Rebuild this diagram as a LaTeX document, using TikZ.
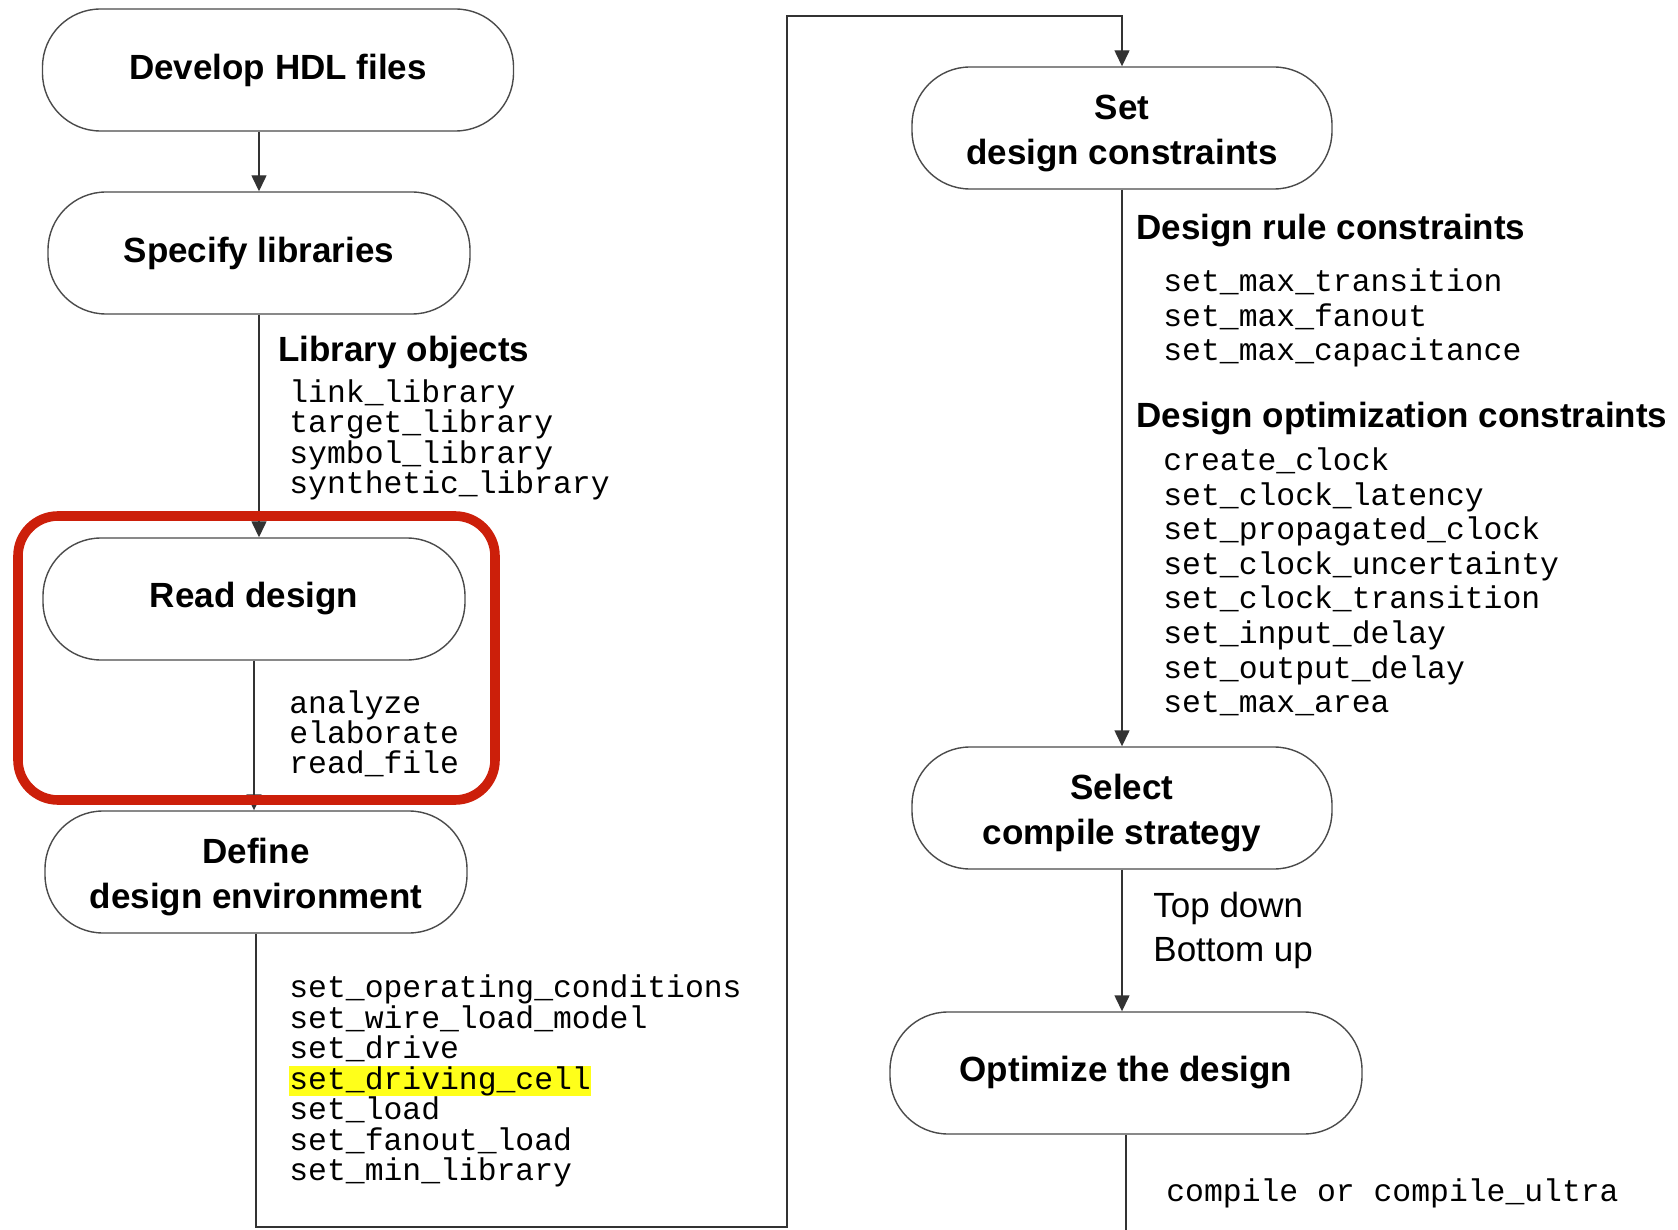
\documentclass[tikz,border=0pt]{standalone}
\usepackage{fontspec}
\setmainfont{Liberation Sans}
\setmonofont{Liberation Mono}
\usepackage{tikz}
\usetikzlibrary{arrows.meta, positioning}
\usepackage{xcolor}
\definecolor{edgegray}{HTML}{4A4A4A}
\definecolor{focusred}{HTML}{CC1F0A}
\definecolor{marker}{HTML}{FFFF1A}
\newcommand{\marked}[1]{{\setlength{\fboxsep}{0pt}\colorbox{marker}{#1}}}
\newcommand{\topstrut}{\rule{0pt}{17.8pt}}

\tikzset{
  stage/.style={draw=edgegray, line width=0.7pt, rounded corners=29pt,
    minimum width=211pt, minimum height=61pt, inner sep=0pt, align=center,
    font=\fontsize{17.5}{22.5}\selectfont\bfseries},
  flow/.style={draw=black!80, line width=0.7pt, -{Triangle[length=8pt, width=7.5pt]}},
  wire/.style={draw=black!80, line width=0.7pt},
  heading/.style={anchor=west, inner sep=0pt, font=\fontsize{17.5}{21}\selectfont\bfseries},
  cmds/.style={anchor=west, inner sep=0pt, align=left,
    font=\fontsize{15.7}{15.25}\selectfont\ttfamily},
}

\begin{document}
\begin{tikzpicture}[x=0.5pt, y=-0.5pt]
  \useasboundingbox (0,0) rectangle (1678,1230);

  % left column
  \node[stage, minimum width=235.5pt] (hdl) at (278,70) {Develop HDL files};
  \node[stage] (libs) at (259,253) {Specify libraries};
  \node[stage] (read) at (254,599) {Read design};
  \node[stage] (env) at (256,872) {\topstrut Define\\design environment};

  \node[heading] (libhead) at (278,352) {Library objects};
  \node[cmds] (libcmds) at (289,440) {link\_library\\target\_library\\symbol\_library\\synthetic\_library};
  \node[cmds, font=\fontsize{15.7}{15}\selectfont\ttfamily] (readcmds) at (289,734) {analyze\\elaborate\\read\_file};
  \node[cmds] (envcmds) at (289,1081) {set\_operating\_conditions\\set\_wire\_load\_model\\set\_drive\\
    \marked{set\_driving\_cell}\\set\_load\\set\_fanout\_load\\set\_min\_library};

  % right column
  \node[stage, minimum width=210pt] (cons) at (1122,128) {\topstrut Set\\design constraints};
  \node[stage, minimum width=210pt] (strat) at (1122,808) {\topstrut Select\\compile strategy};
  \node[stage, minimum width=236pt] (opt) at (1126,1073) {Optimize the design};

  \node[heading] (rulehead) at (1136,231) {Design rule constraints};
  \node[cmds, font=\fontsize{15.7}{17.4}\selectfont\ttfamily] (rulecmds) at (1163,318)
    {set\_max\_transition\\set\_max\_fanout\\set\_max\_capacitance};
  \node[heading] (opthead) at (1136,419) {Design optimization constraints};
  \node[cmds, font=\fontsize{15.7}{17.3}\selectfont\ttfamily] (optcmds) at (1163,582)
    {create\_clock\\set\_clock\_latency\\set\_propagated\_clock\\set\_clock\_uncertainty\\
     set\_clock\_transition\\set\_input\_delay\\set\_output\_delay\\set\_max\_area};
  \node[anchor=west, inner sep=0pt, align=left, font=\fontsize{17.5}{22}\selectfont] (modes)
    at (1153,930) {Top down\\Bottom up};
  \node[cmds] (compcmd) at (1166,1193) {compile or compile\_ultra};

  % connectors
  \coordinate (lowturn) at (787,1227);
  \coordinate (highturn) at (787,16);
  \coordinate (exit) at (1126,1230);
  \draw[flow] (libs.north |- hdl.south) -- (libs.north);
  \draw[flow] (libs.south) -- (libs.south |- read.north);
  \draw[flow] (read.south) -- (read.south |- env.north);
  \draw[flow] (env.south) |- (lowturn) -- (highturn) -| (cons.north);
  \draw[flow] (cons.south) -- (strat.north);
  \draw[flow] (strat.south) -- (strat.south |- opt.north);
  \draw[wire] (opt.south) -- (exit);

  % highlight
  \draw[focusred, line width=4.8pt, rounded corners=20pt] (18,516) rectangle (495,800);
\end{tikzpicture}
\end{document}
